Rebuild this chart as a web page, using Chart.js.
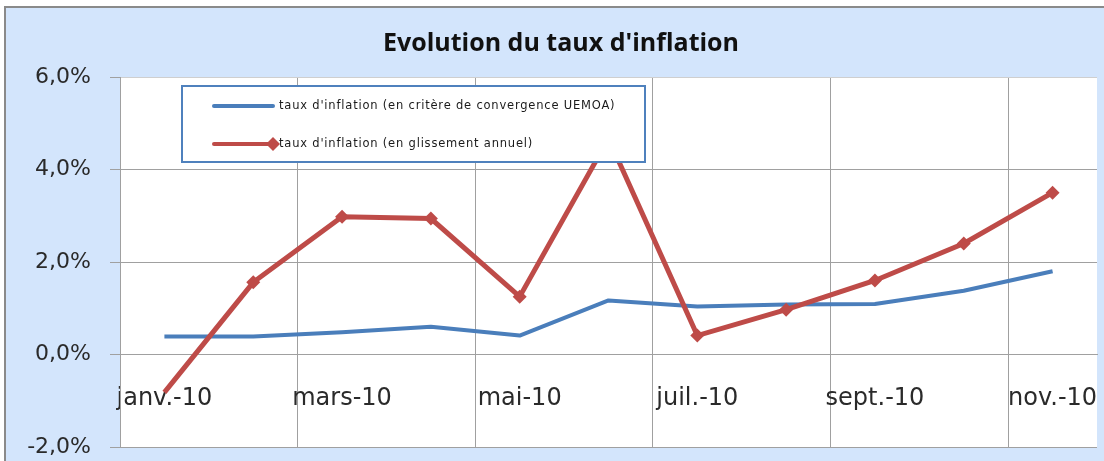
<!DOCTYPE html>
<html>
<head>
<meta charset="utf-8">
<script src="https://cdn.jsdelivr.net/npm/chart.js@4.4.1/dist/chart.umd.min.js"></script>
<style>
  html, body { margin: 0; padding: 0; background: #ffffff; }
  #wrap { width: 1104px; height: 461px; }
</style>
</head>
<body>
<div id="wrap"><canvas id="inflationChart" width="1104" height="461"></canvas></div>
<script>
// donnees
const mois = ['janv.-10', 'févr.-10', 'mars-10', 'avr.-10', 'mai-10', 'juin-10',
              'juil.-10', 'août-10', 'sept.-10', 'oct.-10', 'nov.-10'];
const tauxUemoa = [0.39, 0.39, 0.48, 0.60, 0.41, 1.17, 1.04, 1.08, 1.09, 1.38, 1.80];
const tauxGlissement = [-0.82, 1.56, 2.98, 2.94, 1.25, 4.67, 0.41, 0.97, 1.60, 2.40, 3.50];
const nomsSeries = ['taux d\'inflation (en critère de convergence UEMOA)',
                    'taux d\'inflation (en glissement annuel)'];
const titre = 'Evolution du taux d\'inflation';
const yMin = -2, yMax = 6, yPas = 2;

const bleu = '#4a7ebb';
const rouge = '#be4b48';
const grille = '#a0a0a0';

Chart.defaults.font.family = 'DejaVu Sans';

// fond bleu, cadre, zone de tracé blanche
const fondPlugin = {
    id: 'fond',
    beforeDraw(chart) {
        const ctx = chart.ctx;
        const a = chart.chartArea;
        ctx.save();
        ctx.fillStyle = '#ffffff';
        ctx.fillRect(0, 0, chart.width, chart.height);
        ctx.fillStyle = '#d3e5fc';
        ctx.fillRect(5, 7, chart.width - 5, chart.height - 7);
        ctx.strokeStyle = '#8a8a8a';
        ctx.lineWidth = 2;
        ctx.beginPath();
        ctx.moveTo(5, chart.height);
        ctx.lineTo(5, 7);
        ctx.lineTo(chart.width, 7);
        ctx.stroke();
        ctx.fillStyle = '#ffffff';
        ctx.fillRect(a.left, a.top, a.right - a.left, a.bottom - a.top);
        ctx.restore();
    },
    afterDraw(chart) {
        const ctx = chart.ctx;
        ctx.save();
        // titre
        ctx.fillStyle = '#111111';
        ctx.font = 'bold 25px "Open Sans"';
        ctx.textAlign = 'center';
        ctx.textBaseline = 'alphabetic';
        ctx.fillText(titre, 561, 51);

        // légende
        const lx = 182, ly = 86, lw = 463, lh = 76;
        ctx.fillStyle = '#ffffff';
        ctx.fillRect(lx, ly, lw, lh);
        ctx.strokeStyle = '#4f81bd';
        ctx.lineWidth = 2;
        ctx.strokeRect(lx, ly, lw, lh);

        const couleurs = [bleu, rouge];
        const lignesY = [106, 144];
        ctx.font = '11.5px "DejaVu Sans"';
        ctx.letterSpacing = '0.8px';
        ctx.textAlign = 'left';
        ctx.textBaseline = 'middle';
        for (let i = 0; i < nomsSeries.length; i++) {
            const y = lignesY[i];
            ctx.strokeStyle = couleurs[i];
            ctx.lineWidth = 4;
            ctx.lineCap = 'round';
            ctx.beginPath();
            ctx.moveTo(214, y);
            ctx.lineTo(273, y);
            ctx.stroke();
            if (i === 1) {
                ctx.fillStyle = rouge;
                ctx.beginPath();
                ctx.moveTo(273, y - 7);
                ctx.lineTo(280, y);
                ctx.lineTo(273, y + 7);
                ctx.lineTo(266, y);
                ctx.closePath();
                ctx.fill();
            }
            ctx.fillStyle = '#1a1a1a';
            ctx.fillText(nomsSeries[i], 279, y);
        }
        ctx.restore();
    }
};

const ctx = document.getElementById('inflationChart').getContext('2d');

const myChart = new Chart(ctx, {
    type: 'line',
    data: {
        labels: mois,
        datasets: [{
            label: nomsSeries[0],
            data: tauxUemoa,
            borderColor: bleu,
            borderWidth: 4,
            borderJoinStyle: 'round',
            pointRadius: 0,
            tension: 0,
            order: 2
        }, {
            label: nomsSeries[1],
            data: tauxGlissement,
            borderColor: rouge,
            backgroundColor: rouge,
            borderWidth: 5,
            pointStyle: 'rectRot',
            pointRadius: (c) => c.dataIndex === 0 ? 0 : 7,
            pointBorderWidth: 0,
            tension: 0,
            order: 1
        }]
    },
    options: {
        responsive: false,
        animation: false,
        layout: {
            padding: { left: 0, right: 5, top: 77, bottom: 14 }
        },
        scales: {
            x: {
                position: { y: 0 },
                offset: true,
                afterFit: (scale) => { scale.paddingLeft = 0; scale.paddingRight = 0; },
                grid: {
                    offset: true,
                    drawTicks: false,
                    color: (c) => c.index % 2 === 0 ? grille : 'rgba(0,0,0,0)',
                    lineWidth: 1
                },
                border: { display: true, color: grille },
                ticks: {
                    autoSkip: false,
                    maxRotation: 0,
                    padding: 30,
                    color: '#2a2a2a',
                    font: { size: 24 },
                    callback: function (v, i) {
                        return i % 2 === 0 ? this.getLabelForValue(v) : '';
                    }
                }
            },
            y: {
                min: yMin,
                max: yMax,
                afterFit: (scale) => {
                    scale.width = 120;
                    scale.paddingTop = 0;
                    scale.paddingBottom = 0;
                },
                grid: {
                    color: (c) => c.tick && c.tick.value === yMax ? '#cfcfcf' : grille,
                    tickColor: grille,
                    tickLength: 10
                },
                border: { display: true, color: grille },
                ticks: {
                    stepSize: yPas,
                    padding: 19,
                    color: '#2a2a2a',
                    font: { size: 22 },
                    callback: (v) => v.toFixed(1).replace('.', ',') + '%'
                }
            }
        },
        plugins: {
            legend: { display: false },
            title: { display: false },
            tooltip: { enabled: false }
        }
    },
    plugins: [fondPlugin]
});
</script>
</body>
</html>
